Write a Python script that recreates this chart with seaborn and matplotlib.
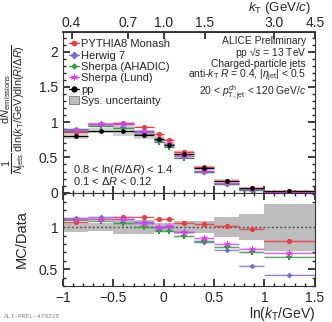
import numpy as np
import pandas as pd
import matplotlib
matplotlib.use("Agg")
import matplotlib.pyplot as plt
import seaborn as sns
from matplotlib.lines import Line2D
from matplotlib.patches import Patch
from matplotlib.ticker import MultipleLocator

# ---------------- data ----------------
bin_lo = [-1.0, -0.75, -0.5, -0.3, -0.1, 0.0, 0.1, 0.3, 0.5, 0.75, 1.0]
bin_hi = [-0.75, -0.5, -0.3, -0.1, 0.0, 0.1, 0.3, 0.5, 0.75, 1.0, 1.5]
bin_center = [-0.875, -0.625, -0.4, -0.2, -0.05, 0.05, 0.2, 0.4, 0.625, 0.875, 1.25]

data_pp = [0.81, 0.88, 0.88, 0.825, 0.76, 0.68, 0.555, 0.355, 0.17, 0.062, 0.022]
data_sys = [0.05, 0.04, 0.07, 0.07, 0.04, 0.035, 0.04, 0.027, 0.021, 0.010, 0.006]

pythia = [0.859, 0.968, 0.988, 0.926, 0.829, 0.742, 0.584, 0.366, 0.171, 0.061, 0.018]
herwig = [0.897, 0.981, 0.968, 0.877, 0.752, 0.683, 0.520, 0.291, 0.123, 0.033, 0.0095]
ahadic = [0.877, 0.942, 0.919, 0.828, 0.720, 0.645, 0.493, 0.296, 0.129, 0.043, 0.014]
lund = [0.884, 0.968, 0.968, 0.861, 0.760, 0.688, 0.520, 0.307, 0.136, 0.046, 0.015]

ratio_pythia = [1.06, 1.10, 1.123, 1.123, 1.091, 1.091, 1.052, 1.032, 1.008, 0.98, 0.83]
ratio_herwig = [1.107, 1.115, 1.10, 1.063, 0.99, 1.004, 0.937, 0.82, 0.726, 0.536, 0.43]
ratio_ahadic = [1.083, 1.071, 1.044, 1.004, 0.948, 0.948, 0.889, 0.833, 0.758, 0.70, 0.643]
ratio_lund = [1.091, 1.10, 1.10, 1.044, 1.0, 1.012, 0.937, 0.865, 0.798, 0.738, 0.69]
ratio_sys = [0.06, 0.044, 0.083, 0.087, 0.05, 0.05, 0.07, 0.075, 0.123, 0.155, 0.28]

labels = ["PYTHIA8 Monash", "Herwig 7", "Sherpa (AHADIC)", "Sherpa (Lund)", "pp", "Sys. uncertainty"]
top_ticks = [0.4, 0.7, 1.0, 1.5, 3.0, 4.5]
top_tick_labels = ["0.4", "0.7", "1.0", "1.5", "3.0", "4.5"]

# ---------------- style ----------------
sns.set_theme(style="ticks")
plt.rcParams["font.family"] = ["Liberation Sans", "DejaVu Sans"]
plt.rcParams["mathtext.fontset"] = "custom"
plt.rcParams["mathtext.rm"] = "Liberation Sans"
plt.rcParams["mathtext.it"] = "Liberation Sans:italic"
plt.rcParams["mathtext.bf"] = "Liberation Sans:bold"

c_red = "#f03a3a"
c_blue = "#6f6fdc"
c_green = "#2e9e3a"
c_mag = "#e23cf0"

fig = plt.figure(figsize=(3.32, 3.22), dpi=100)
ax1 = fig.add_axes([0.19, 0.4016, 0.759, 0.499])
ax2 = fig.add_axes([0.19, 0.112, 0.759, 0.2896], sharex=ax1)

lo = np.array(bin_lo)
hi = np.array(bin_hi)
w = hi - lo

models = [
    ("PYTHIA8 Monash", pythia, ratio_pythia, c_red, "o", 14),
    ("Herwig 7", herwig, ratio_herwig, c_blue, "D", 9),
    ("Sherpa (AHADIC)", ahadic, ratio_ahadic, c_green, "P", 16),
    ("Sherpa (Lund)", lund, ratio_lund, c_mag, (6, 2, 0), 20),
]

XMAX = 1.5041

# ---- top panel ----
d = np.array(data_pp)
s = np.array(data_sys)
ax1.bar(lo, 2 * s, width=w, bottom=d - s, align="edge", color="#c4c4c4", alpha=0.75, linewidth=0)

for name, vals, rvals, col, mk, sz in models:
    v = np.array(vals)
    ax1.bar(lo, 0.03 * np.ones_like(v), width=w, bottom=v - 0.015, align="edge",
            color=col, alpha=0.18, linewidth=0)
    ax1.hlines(v, lo, hi, color=col, lw=0.9)
    df = pd.DataFrame({"x": bin_center, "y": vals})
    sns.scatterplot(data=df, x="x", y="y", ax=ax1, color=col, marker=mk, s=sz,
                    edgecolor=col, linewidth=0.6 if mk == (6, 2, 0) else 0, zorder=5, legend=False)

ax1.hlines(d, lo, hi, color="black", lw=0.9)
dfd = pd.DataFrame({"x": bin_center, "y": data_pp})
sns.scatterplot(data=dfd, x="x", y="y", ax=ax1, color="black", marker="o", s=12,
                linewidth=0, zorder=6, legend=False)

ax1.set_ylim(0, 2.28)
ax1.set_xlim(-1, XMAX)
ax1.yaxis.set_major_locator(MultipleLocator(0.5))
ax1.yaxis.set_minor_locator(MultipleLocator(0.1))
ax1.xaxis.set_major_locator(MultipleLocator(0.5))
ax1.xaxis.set_minor_locator(MultipleLocator(0.1))
ax1.yaxis.set_major_formatter(matplotlib.ticker.FuncFormatter(lambda v, p: f"{v:g}"))
ax1.tick_params(axis="both", which="both", direction="in", top=False, right=True,
                labelbottom=False, labelsize=10)
ax1.tick_params(which="major", length=5)
ax1.tick_params(which="minor", length=2.5)
ax1.set_xlabel("")
ax1.set_ylabel(r"$\dfrac{1}{N_{\rm jets}}\,\dfrac{{\rm d}N_{\rm emissions}}{{\rm d}\ln(k_{\rm T}/{\rm GeV}){\rm d}\ln(R/\Delta R)}$",
               fontsize=7.8)
ax1.yaxis.set_label_coords(-0.135, 0.52)

secax = ax1.secondary_xaxis("top", functions=(np.exp, np.log))
secax.set_xticks(top_ticks)
secax.set_xticklabels(top_tick_labels)
secax.tick_params(direction="in", length=5, labelsize=10, pad=1.5)
secax.xaxis.set_minor_locator(matplotlib.ticker.NullLocator())
fig.text(0.937, 0.966, r"$k_{\rm T}$ (GeV/$c$)", ha="right", va="baseline", fontsize=9.5)

handles = [Line2D([], [], color=col, marker=mk, markersize=3.5 if mk != (6, 2, 0) else 5,
                  lw=0.9, markeredgewidth=0.6) for _, _, _, col, mk, _ in models]
handles.append(Line2D([], [], color="black", marker="o", markersize=3.5, lw=0.9))
handles.append(Patch(facecolor="#bdbdbd", edgecolor="#777777", linewidth=0.6))
leg = ax1.legend(handles, labels, loc="upper left", bbox_to_anchor=(0.0, 0.99), frameon=False,
                 fontsize=8, handlelength=0.9, handletextpad=0.25, labelspacing=0.12,
                 borderaxespad=0.3, borderpad=0.2)

rt = ["ALICE Preliminary", "pp \u221A$s$ = 13 TeV", "Charged-particle jets",
      r"anti-$k_{\rm T}$ $R$ = 0.4, $|\eta_{\rm jet}|$ < 0.5",
      r"20 < $p_{\rm T,\,jet}^{\rm ch}$ < 120 GeV/$c$"]
rt_y = [0.928, 0.85, 0.78, 0.71, 0.602]
for t, yy in zip(rt, rt_y):
    ax1.text(0.965, yy, t, transform=ax1.transAxes, ha="right", va="baseline", fontsize=7.4)

ax1.text(0.04, 0.125, r"0.8 < ln($R/\Delta R$) < 1.4", transform=ax1.transAxes, fontsize=8, va="baseline")
ax1.text(0.04, 0.045, r"0.1 < $\Delta R$ < 0.12", transform=ax1.transAxes, fontsize=8, va="baseline")

# ---- ratio panel ----
rs = np.array(ratio_sys)
ax2.bar(lo, 2 * rs, width=w, bottom=1 - rs, align="edge", color="#bdbdbd", linewidth=0)
ax2.axhline(1, color="#555555", lw=1.0, ls=(0, (1.5, 1.5)))
for name, vals, rvals, col, mk, sz in models:
    r = np.array(rvals)
    ax2.bar(lo, 0.03 * np.ones_like(r), width=w, bottom=r - 0.015, align="edge",
            color=col, alpha=0.15, linewidth=0)
    ax2.hlines(r, lo, hi, color=col, lw=0.9, alpha=0.8)
    ax2.vlines(bin_center, r - 0.02, r + 0.02, color=col, lw=0.8, alpha=0.8)
    dfr = pd.DataFrame({"x": bin_center, "y": rvals})
    sns.scatterplot(data=dfr, x="x", y="y", ax=ax2, color=col, marker=mk, s=sz,
                    edgecolor=col, linewidth=0.6 if mk == (6, 2, 0) else 0, zorder=5, legend=False)

ax2.set_ylim(0.3, 1.41)
ax2.set_xlim(-1, XMAX)
ax2.xaxis.set_major_locator(matplotlib.ticker.FixedLocator([-1, -0.5, 0, 0.5, 1, 1.5]))
ax2.yaxis.set_major_locator(matplotlib.ticker.FixedLocator([0.5, 1.0]))
ax2.yaxis.set_minor_locator(MultipleLocator(0.1))
ax2.yaxis.set_major_formatter(matplotlib.ticker.FuncFormatter(lambda v, p: f"{v:g}"))
ax2.xaxis.set_major_formatter(matplotlib.ticker.FuncFormatter(lambda v, p: f"{v:g}".replace("-", "\u2212")))
ax2.tick_params(axis="both", which="both", direction="in", top=True, right=True, labelsize=10)
ax2.tick_params(which="major", length=5)
ax2.tick_params(which="minor", length=2.5)
ax2.set_ylabel("MC/Data", fontsize=10.5)
ax2.yaxis.set_label_coords(-0.135, 0.5)
ax2.set_xlabel(r"ln($k_{\rm T}$/GeV)", fontsize=10, loc="right", labelpad=0)

for ax in (ax1, ax2):
    for sp in ax.spines.values():
        sp.set_color("#333333")
        sp.set_linewidth(0.8)

fig.text(0.012, 0.012, "ALI-PREL-479228", fontsize=4.5, color="#888888", family="DejaVu Sans Mono")

fig.savefig("out.png", dpi=100)
